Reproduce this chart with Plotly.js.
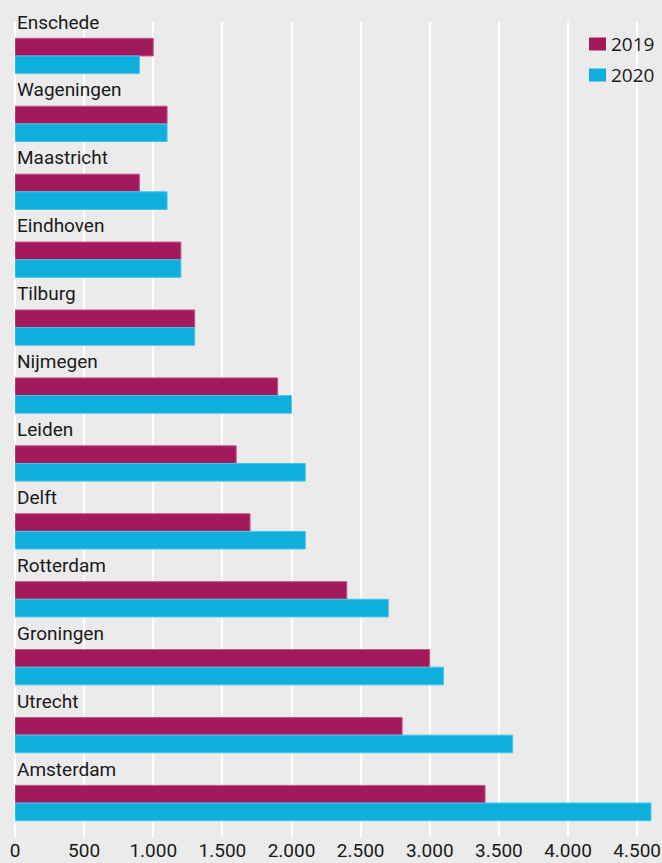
<!DOCTYPE html>
<html>
<head>
<meta charset="utf-8">
<script src="https://cdn.plot.ly/plotly-3.0.1.min.js"></script>
<style>html,body{margin:0;padding:0;background:#ebebeb;}#chart{width:662px;height:863px;}</style>
</head>
<body>
<div id="chart"></div>
<script>
const cities = ["Enschede","Wageningen","Maastricht","Eindhoven","Tilburg","Nijmegen","Leiden","Delft","Rotterdam","Groningen","Utrecht","Amsterdam"];
const values2019 = [1000,1100,900,1200,1300,1900,1600,1700,2400,3000,2800,3400];
const values2020 = [900,1100,1100,1200,1300,2000,2100,2100,2700,3100,3600,4600];
const tickVals = [0,500,1000,1500,2000,2500,3000,3500,4000,4500];
const tickText = ["0","500","1.000","1.500","2.000","2.500","3.000","3.500","4.000","4.500"];
const seriesNames = ["2019","2020"];
const colors = ["#a21a5b","#0eaedd"];

const traces = [
  {type:"bar", orientation:"h", name:seriesNames[0], y:cities, x:values2019,
   marker:{color:colors[0], line:{color:"#c0588a", width:1}}, hoverinfo:"x"},
  {type:"bar", orientation:"h", name:seriesNames[1], y:cities, x:values2020,
   marker:{color:colors[1], line:{color:"#4cc3e6", width:1}}, hoverinfo:"x"}
];

const font = "Roboto, 'Open Sans', sans-serif";
const annotations = cities.map((c,i)=>({
  x:0, y:i-0.5, xref:"x", yref:"y", text:c, showarrow:false,
  xanchor:"left", yanchor:"middle", xshift:0,
  font:{family:font, size:19, color:"#1a1a1a"}
}));
// custom legend
const shapes = [];
seriesNames.forEach((n,k)=>{
  const yc = 44 + k*31;
  shapes.push({type:"rect", xref:"paper", yref:"paper",
    x0:(589-15)/647, x1:(606-15)/647,
    y0:(836.7-(yc+6.5))/814.7, y1:(836.7-(yc-6.5))/814.7,
    fillcolor:colors[k], line:{width:0}});
  annotations.push({xref:"paper", yref:"paper", x:(609-15)/647, y:(836.7-yc)/814.7,
    text:n, showarrow:false, xanchor:"left", yanchor:"middle",
    font:{family:"'Open Sans', sans-serif", size:19, color:"#1a1a1a"}});
});

const layout = {
  width:662, height:863,
  paper_bgcolor:"#ebebeb", plot_bgcolor:"#ebebeb",
  margin:{l:15, r:0, t:22, b:26.3},
  showlegend:false,
  barmode:"group", bargap:0.48, bargroupgap:0,
  xaxis:{range:[0,4680], tickvals:tickVals, ticktext:tickText,
    showgrid:true, gridcolor:"#ffffff", gridwidth:2, zeroline:true, zerolinecolor:"#ffffff", zerolinewidth:2,
    showline:false, ticks:"", tickfont:{family:font, size:19, color:"#1a1a1a"}, fixedrange:true},
  yaxis:{type:"category", categoryorder:"array", categoryarray:cities, range:[11.5,-0.5],
    showticklabels:false, showgrid:false, zeroline:false, ticks:"", fixedrange:true},
  annotations:annotations,
  shapes:shapes
};
Plotly.newPlot("chart", traces, layout, {displayModeBar:false, staticPlot:true});
</script>
</body>
</html>
